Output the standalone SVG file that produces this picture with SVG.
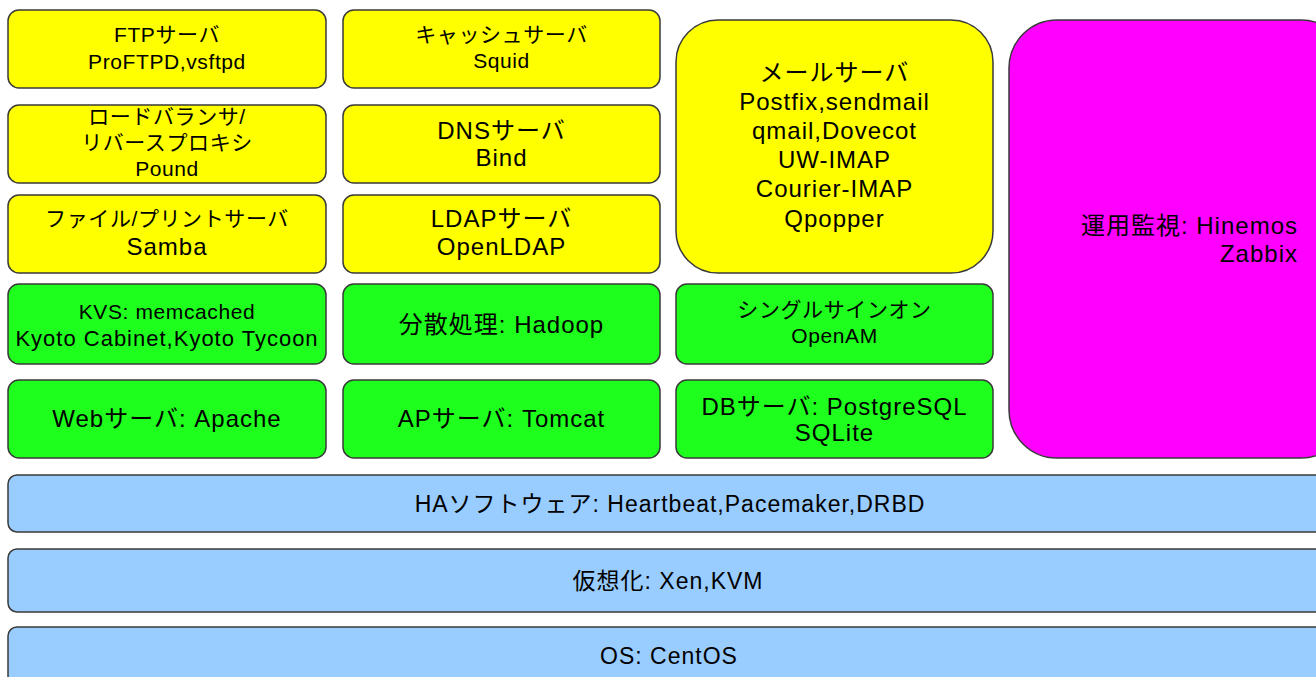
<svg xmlns="http://www.w3.org/2000/svg" width="1316" height="677" viewBox="0 0 1316 677">
<style>
.b{stroke:#3a3a3a;stroke-width:1.5}
.y{fill:#ffff00}
.g{fill:#1eff1e}
.m{fill:#ff00ff}
.u{fill:#99ccff}
text{font-family:"Liberation Sans","Noto Sans CJK JP",sans-serif;fill:#000;text-anchor:middle}
.t{font-size:21px;letter-spacing:0.6px}
.k{font-size:24px;letter-spacing:1px}
.l{font-size:23px;letter-spacing:1px}
</style>
<rect width="1316" height="677" fill="#fff"/>
<g id="ftp"><rect class="b y" x="8" y="10" width="318" height="78" rx="11"/><text class="t" x="167" y="42">FTPサーバ</text><text class="t" x="167" y="69">ProFTPD,vsftpd</text></g>
<g id="lb"><rect class="b y" x="8" y="105" width="318" height="78" rx="11"/><text class="t" x="167" y="124">ロードバランサ/</text><text class="t" x="167" y="150">リバースプロキシ</text><text class="t" x="167" y="176">Pound</text></g>
<g id="file"><rect class="b y" x="8" y="195" width="318" height="78" rx="11"/><text class="t" x="167" y="226">ファイル/プリントサーバ</text><text class="k" x="167" y="255">Samba</text></g>
<g id="kvs"><rect class="b g" x="8" y="284" width="318" height="80" rx="11"/><text class="t" x="167" y="319">KVS: memcached</text><text style="font-size:22px;letter-spacing:1px" x="167" y="346">Kyoto  Cabinet,Kyoto  Tycoon</text></g>
<g id="web"><rect class="b g" x="8" y="380" width="318" height="78" rx="11"/><text class="k" x="167" y="427">Webサーバ: Apache</text></g>
<g id="cache"><rect class="b y" x="343" y="10" width="317" height="78" rx="11"/><text class="t" x="501.5" y="42">キャッシュサーバ</text><text class="t" x="501.5" y="68">Squid</text></g>
<g id="dns"><rect class="b y" x="343" y="105" width="317" height="78" rx="11"/><text class="k" x="501.5" y="139">DNSサーバ</text><text class="k" x="501.5" y="166">Bind</text></g>
<g id="ldap"><rect class="b y" x="343" y="195" width="317" height="78" rx="11"/><text class="k" x="501.5" y="227">LDAPサーバ</text><text class="k" x="501.5" y="255">OpenLDAP</text></g>
<g id="hadoop"><rect class="b g" x="343" y="284" width="317" height="80" rx="11"/><text class="k" x="501.5" y="333">分散処理: Hadoop</text></g>
<g id="ap"><rect class="b g" x="343" y="380" width="317" height="78" rx="11"/><text class="k" x="501.5" y="427">APサーバ: Tomcat</text></g>
<g id="mail"><rect class="b y" x="676" y="20" width="317" height="253" rx="42"/><text class="k" x="834.5" y="81">メールサーバ</text><text class="k" x="834.5" y="110">Postfix,sendmail</text><text class="k" x="834.5" y="139">qmail,Dovecot</text><text class="k" x="834.5" y="168">UW-IMAP</text><text class="k" x="834.5" y="197">Courier-IMAP</text><text class="k" x="834.5" y="227">Qpopper</text></g>
<g id="sso"><rect class="b g" x="676" y="284" width="317" height="80" rx="11"/><text class="t" x="834.5" y="317">シングルサインオン</text><text class="t" x="834.5" y="343">OpenAM</text></g>
<g id="db"><rect class="b g" x="676" y="380" width="317" height="78" rx="11"/><text class="k" x="834.5" y="415">DBサーバ: PostgreSQL</text><text class="k" x="834.5" y="441">SQLite</text></g>
<g id="monitor"><rect class="b m" x="1009" y="20" width="340" height="438" rx="48"/><text class="k" x="1298" y="234" style="text-anchor:end">運用監視: Hinemos</text><text class="k" x="1298" y="262" style="text-anchor:end">Zabbix</text></g>
<g id="ha"><rect class="b u" x="8" y="475" width="1330" height="57" rx="9"/><text class="l" x="670" y="512">HAソフトウェア: Heartbeat,Pacemaker,DRBD</text></g>
<g id="virt"><rect class="b u" x="8" y="549" width="1330" height="63" rx="9"/><text class="l" x="668" y="589">仮想化: Xen,KVM</text></g>
<g id="os"><rect class="b u" x="8" y="627" width="1330" height="70" rx="9"/><text class="l" x="669" y="664">OS: CentOS</text></g>
<g id="connectors"/>
</svg>
